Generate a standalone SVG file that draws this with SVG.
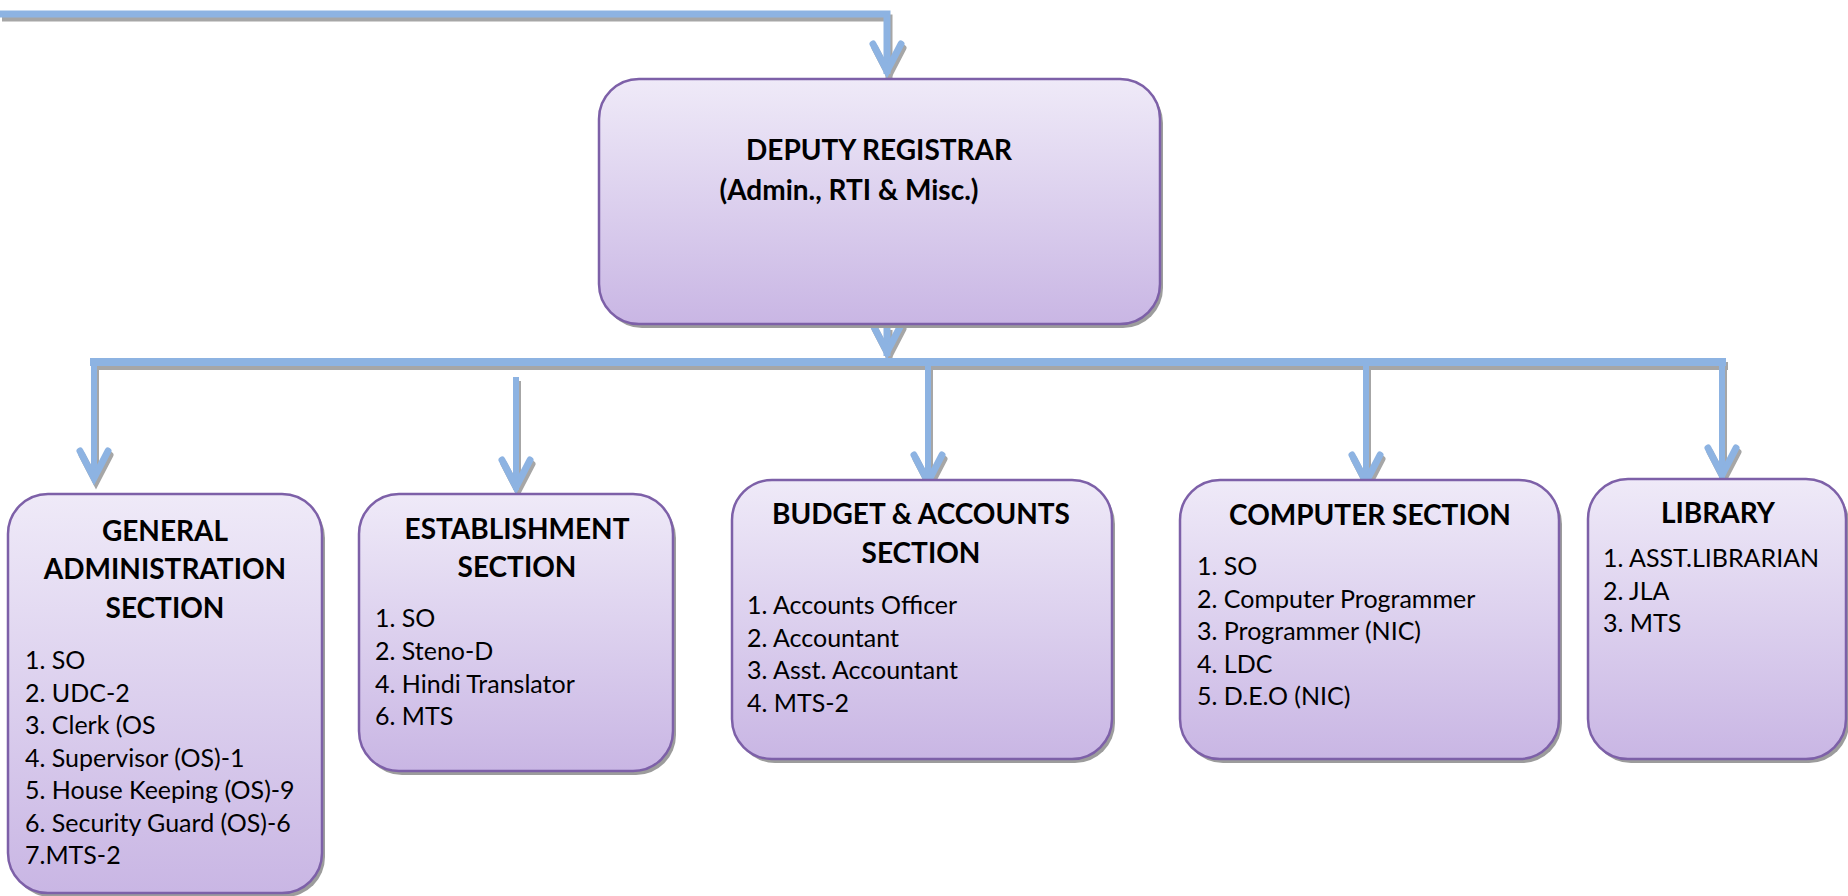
<svg xmlns="http://www.w3.org/2000/svg" xmlns:xlink="http://www.w3.org/1999/xlink" width="1848" height="896" viewBox="0 0 1848 896">
<style>
.box{fill:url(#g);stroke:#7D60A8;stroke-width:2.5}
.shadow{fill:#9C9C9C}
.h{font-family:Lato,"Liberation Sans",sans-serif;font-weight:bold;font-size:28px;fill:#000;text-anchor:middle}
.b{font-family:Lato,"Liberation Sans",sans-serif;font-size:25px;fill:#000}
.cl{fill:none;stroke-linejoin:miter;stroke-miterlimit:10}
</style>
<defs>
<linearGradient id="g" x1="0" y1="0" x2="0" y2="1">
<stop offset="0" stop-color="#EFEAF8"/>
<stop offset="1" stop-color="#C9B6E4"/>
</linearGradient>
<path id="ah" d="M-14,-35 L0,-8 L14,-35" stroke-width="7" stroke-linecap="round"/>
<g id="lines">
<path d="M0,14 H887 V74" stroke-width="7"/>
<use xlink:href="#ah" transform="translate(887,79)"/>
<path d="M887,326 V356" stroke-width="7"/>
<use xlink:href="#ah" transform="translate(887,360)"/>
<path d="M90,362 H1726" stroke-width="8"/>
<path d="M94,358 V480" stroke-width="6"/>
<use xlink:href="#ah" transform="translate(94,486)"/>
<path d="M516,377 V490" stroke-width="6"/>
<use xlink:href="#ah" transform="translate(516,495)"/>
<path d="M928,362 V485" stroke-width="6"/>
<use xlink:href="#ah" transform="translate(928,490)"/>
<path d="M1366,362 V485" stroke-width="6"/>
<use xlink:href="#ah" transform="translate(1366,490)"/>
<path d="M1722,358 V478" stroke-width="6"/>
<use xlink:href="#ah" transform="translate(1722,483)"/>
</g>
</defs>
<rect width="1848" height="896" fill="#fff"/>
<g id="connectors" class="cl">
<use xlink:href="#lines" transform="translate(2,4)" stroke="#A6A6A6"/>
<use xlink:href="#lines" stroke="#8DB3E2"/>
</g>
<g id="deputy-registrar">
<rect class="shadow" x="602" y="83" width="561" height="245" rx="40"/>
<rect class="box" x="599" y="79" width="561" height="245" rx="40"/>
<text class="h" x="879" y="160">DEPUTY REGISTRAR</text>
<text class="h" x="849" y="200">(Admin., RTI &amp; Misc.)</text>
</g>
<g id="general-administration">
<rect class="shadow" x="11" y="498" width="314" height="399" rx="40"/>
<rect class="box" x="8" y="494" width="314" height="399" rx="40"/>
<text class="h" x="165" y="541">GENERAL</text>
<text class="h" x="165" y="579">ADMINISTRATION</text>
<text class="h" x="165" y="618">SECTION</text>
<text class="b" x="25" y="669">1. SO</text>
<text class="b" x="25" y="701.5">2. UDC-2</text>
<text class="b" x="25" y="734">3. Clerk (OS</text>
<text class="b" x="25" y="766.5">4. Supervisor (OS)-1</text>
<text class="b" x="25" y="799">5. House Keeping (OS)-9</text>
<text class="b" x="25" y="831.5">6. Security Guard (OS)-6</text>
<text class="b" x="25" y="864">7.MTS-2</text>
</g>
<g id="establishment">
<rect class="shadow" x="362" y="498" width="314" height="277" rx="40"/>
<rect class="box" x="359" y="494" width="314" height="277" rx="40"/>
<text class="h" x="517" y="539">ESTABLISHMENT</text>
<text class="h" x="517" y="577">SECTION</text>
<text class="b" x="375" y="627">1. SO</text>
<text class="b" x="375" y="660">2. Steno-D</text>
<text class="b" x="375" y="693">4. Hindi Translator</text>
<text class="b" x="375" y="725">6. MTS</text>
</g>
<g id="budget-accounts">
<rect class="shadow" x="735" y="484" width="380" height="279" rx="40"/>
<rect class="box" x="732" y="480" width="380" height="279" rx="40"/>
<text class="h" x="921" y="524">BUDGET &amp; ACCOUNTS</text>
<text class="h" x="921" y="563">SECTION</text>
<text class="b" x="747" y="614">1. Accounts Officer</text>
<text class="b" x="747" y="647">2. Accountant</text>
<text class="b" x="747" y="679">3. Asst. Accountant</text>
<text class="b" x="747" y="712">4. MTS-2</text>
</g>
<g id="computer-section">
<rect class="shadow" x="1183" y="484" width="379" height="279" rx="40"/>
<rect class="box" x="1180" y="480" width="379" height="279" rx="40"/>
<text class="h" x="1370" y="525">COMPUTER SECTION</text>
<text class="b" x="1197" y="575">1. SO</text>
<text class="b" x="1197" y="607.5">2. Computer Programmer</text>
<text class="b" x="1197" y="640">3. Programmer (NIC)</text>
<text class="b" x="1197" y="672.5">4. LDC</text>
<text class="b" x="1197" y="705">5. D.E.O (NIC)</text>
</g>
<g id="library">
<rect class="shadow" x="1591" y="483" width="258" height="280" rx="40"/>
<rect class="box" x="1588" y="479" width="258" height="280" rx="40"/>
<text class="h" x="1718" y="523">LIBRARY</text>
<text class="b" x="1603" y="567">1. ASST.LIBRARIAN</text>
<text class="b" x="1603" y="600">2. JLA</text>
<text class="b" x="1603" y="632">3. MTS</text>
</g>
</svg>
